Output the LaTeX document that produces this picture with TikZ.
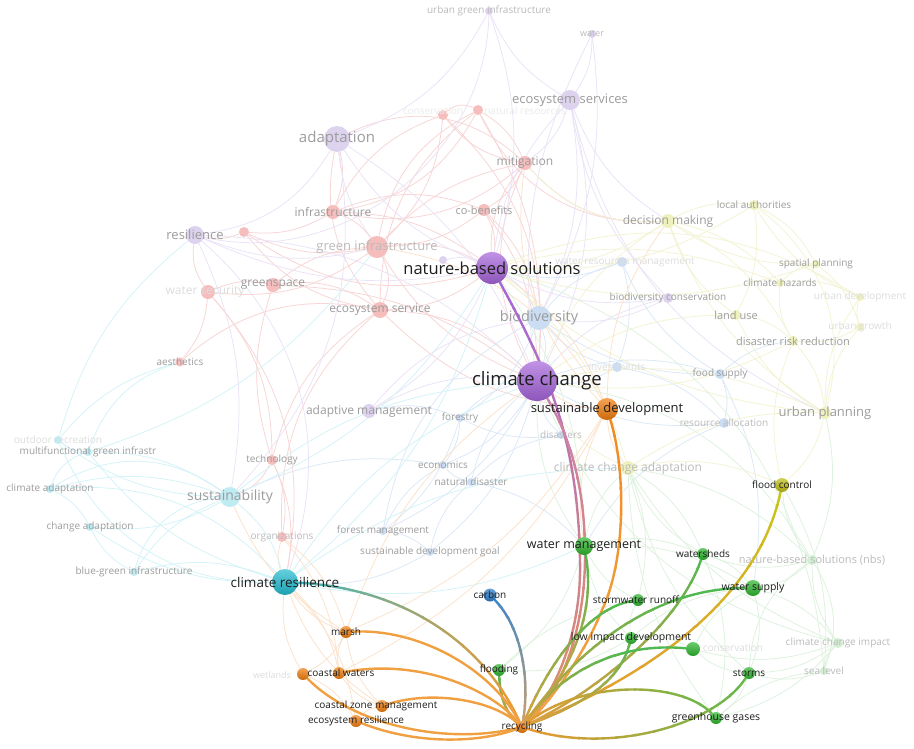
\documentclass[tikz,border=0pt]{standalone}
\usepackage{fontspec}
\setmainfont{Open Sans}
\pgfdeclarelayer{edges}\pgfdeclarelayer{hl}\pgfdeclarelayer{top}\pgfdeclarelayer{back}
\pgfsetlayers{back,edges,main,hl,top}
\definecolor{fP}{HTML}{DDD3EF}
\definecolor{fR}{HTML}{F6BDBD}
\definecolor{fB}{HTML}{CADDF2}
\definecolor{fY}{HTML}{EEF0BE}
\definecolor{fC}{HTML}{BFEBF2}
\definecolor{fG}{HTML}{D2EED2}
\definecolor{eR}{HTML}{F9D4D4}
\definecolor{eP}{HTML}{EAE3F7}
\definecolor{eB}{HTML}{DBE8F7}
\definecolor{eY}{HTML}{F3F3D2}
\definecolor{eC}{HTML}{D2F3F8}
\definecolor{eG}{HTML}{DDF2DD}
\definecolor{eO}{HTML}{FCE2C9}
\definecolor{LG}{HTML}{9C9C9C}
\definecolor{LGb}{HTML}{BBBBBB}
\definecolor{LGc}{HTML}{DDDDDD}
\definecolor{TX}{HTML}{1E1E1E}
\definecolor{cP}{HTML}{A664DA}
\definecolor{cO}{HTML}{F07C0C}
\definecolor{cG}{HTML}{2DB52D}
\definecolor{cB}{HTML}{2A7CCB}
\definecolor{cY}{HTML}{BEBE12}
\definecolor{cC}{HTML}{22BCD0}
\definecolor{gPa}{HTML}{A566D8}
\definecolor{gPb}{HTML}{E0906A}
\definecolor{gCa}{HTML}{CC82A8}
\definecolor{gCb}{HTML}{E0886C}
\definecolor{gOa}{HTML}{F08A20}
\definecolor{gOb}{HTML}{F0A445}
\definecolor{gGa}{HTML}{4DB84D}
\definecolor{gGb}{HTML}{E8A040}
\definecolor{gYa}{HTML}{C8C418}
\definecolor{gYb}{HTML}{E89A30}
\definecolor{gHa}{HTML}{50B850}
\definecolor{gHb}{HTML}{D8A040}
\definecolor{gRb}{HTML}{6AB84A}
\definecolor{gFb}{HTML}{E0A040}
\definecolor{gBa}{HTML}{3F86C8}
\definecolor{gBb}{HTML}{C8A070}
\definecolor{gTa}{HTML}{3AB8C2}
\definecolor{gTb}{HTML}{E89A35}
\definecolor{gO}{HTML}{F0A040}
\newcommand\fsz[1]{\fontsize{#1}{#1}\selectfont}
\tikzset{
 dot/.style={circle, inner sep=0pt, draw=none, fill=#1},
 bdot/.style={circle, inner sep=0pt, draw=none, top color=#1!70!white, bottom color=#1!85!black},
 lab/.style={inner sep=0pt, text=#1},
 fe/.style={line width=0.75pt, draw=#1},
 hle/.style={line width=2.4pt, line cap=round},
}
% faded node: name, x, y, diameter, fill, text, size, text colour
\newcommand\vnode[8]{\node[dot=#5, minimum size=#4pt] (#1) at (#2,#3) {};
  \node[lab=#8, font=\fsz{#7}] (#1-t) at (#2,#3) {#6};}
\newcommand\bnode[8]{\node[bdot=#5, minimum size=#4pt] (#1) at (#2,#3) {};
  \node[lab=#8, font=\fsz{#7}] (#1-t) at (#2,#3) {#6};}
% gradient edge by horizontal bands (y)
\newcommand\gliney[5]{%
  \foreach \k in {0,...,11}{%
    \pgfmathsetmacro\ya{#3+(#4-#3)*\k/12-1}%
    \pgfmathsetmacro\yb{#3+(#4-#3)*(\k+1)/12+1}%
    \ifnum\k=0 \def\ya{-100}\fi
    \ifnum\k=11 \def\yb{900}\fi
    \pgfmathtruncatemacro\pc{100-\k*100/11}%
    \begin{scope}
      \clip (-20,\ya) rectangle (940,\yb);
      \draw[hle, draw=#1!\pc!#2] #5;
    \end{scope}}}
% gradient edge by vertical bands (x)
\newcommand\glinex[5]{%
  \foreach \k in {0,...,11}{%
    \pgfmathsetmacro\ya{#3+(#4-#3)*\k/12-1}%
    \pgfmathsetmacro\yb{#3+(#4-#3)*(\k+1)/12+1}%
    \ifnum\k=0 \def\ya{-100}\fi
    \ifnum\k=11 \def\yb{1000}\fi
    \pgfmathtruncatemacro\pc{100-\k*100/11}%
    \begin{scope}
      \clip (\ya,-20) rectangle (\yb,800);
      \draw[hle, draw=#1!\pc!#2] #5;
    \end{scope}}}
\begin{document}
\begin{tikzpicture}[x=1pt, y=-1pt]
\begin{pgfonlayer}{back}
\fill[white] (0,0) rectangle (914,748);
\end{pgfonlayer}
\useasboundingbox (0,0) rectangle (914,748);

% ---------------- faded nodes ----------------
% purple
\vnode{adaptation}{337}{139}{26}{fP}{adaptation}{15}{LG}
\vnode{ecoserv}{570}{100}{20}{fP}{ecosystem services}{13}{LG}
\vnode{resilience}{195}{235}{18}{fP}{resilience}{13}{LG}
\vnode{ugi}{489}{11}{8}{fP}{urban green infrastructure}{10}{LGb}
\vnode{water}{592}{34}{8}{fP}{water}{9}{LGb}
\vnode{adaptmgmt}{369}{411}{14}{fP}{adaptive management}{12}{LG}
\vnode{biocons}{668}{298}{10}{fP}{biodiversity conservation}{10}{LG}
\node[dot=fP, minimum size=8pt] (pdot) at (443,260) {};
% red
\vnode{ginfra}{377}{247}{22}{fR}{green infrastructure}{13}{LGb}
\vnode{infra}{333}{212}{14}{fR}{infrastructure}{12}{LG}
\vnode{mitig}{525}{163}{14}{fR}{mitigation}{12}{LG}
\vnode{cobene}{484}{210}{12}{fR}{co-benefits}{11}{LG}
\vnode{greensp}{273}{285}{14}{fR}{greenspace}{12}{LG}
\node[dot=fR, minimum size=14pt] (watersec) at (208,292) {};
\node[lab=LGc, font=\fsz{12}] (watersec-t) at (205,292) {water security};
\vnode{ecoservice}{380}{310}{16}{fR}{ecosystem service}{12}{LG}
\vnode{aesthetics}{180}{362}{9}{fR}{aesthetics}{10}{LG}
\vnode{technology}{272}{460}{10}{fR}{technology}{10}{LG}
\vnode{organiz}{282}{537}{10}{fR}{organizations}{10}{LGb}
\node[dot=fR, minimum size=10pt] (rdot) at (244,232) {};
\node[dot=fR, minimum size=10pt] (cons) at (443,115) {};
\node[lab=LGc!60!white, font=\fsz{10}] (cons-t) at (433,111) {conservation};
\node[dot=fR, minimum size=10pt] (natres) at (478,110) {};
\node[lab=LGc!60!white, font=\fsz{10}] (natres-t) at (525,111) {natural resources};
% blue
\vnode{biodiv}{539}{318}{24}{fB}{biodiversity}{14.5}{LG}
\node[dot=fB, minimum size=10pt] (wrm) at (622,262) {};
\node[lab=LGc, font=\fsz{10}] (wrm-t) at (625,262) {water resources management};
\vnode{invest}{617}{367}{10}{fB}{investments}{10}{LGc}
\vnode{foodsup}{720}{374}{10}{fB}{food supply}{10}{LG}
\vnode{resalloc}{724}{423}{10}{fB}{resource allocation}{10}{LGb}
\vnode{forestry}{460}{418}{8}{fB}{forestry}{10}{LG}
\vnode{disasters}{561}{435}{8}{fB}{disasters}{10}{LGb}
\vnode{economics}{443}{465}{8}{fB}{economics}{10}{LG}
\vnode{natdis}{471}{482}{8}{fB}{natural disaster}{10}{LG}
\vnode{forestmgmt}{383}{531}{8}{fB}{forest management}{10}{LG}
\vnode{sdg}{430}{552}{8}{fB}{sustainable development goal}{10}{LG}
% yellow
\vnode{decision}{668}{221}{14}{fY}{decision making}{12}{LG}
\vnode{localauth}{754}{205}{10}{fY}{local authorities}{10}{LG}
\vnode{spatial}{816}{264}{8}{fY}{spatial planning}{10}{LG}
\vnode{climhaz}{780}{283}{8}{fY}{climate hazards}{10}{LG}
\vnode{urbdev}{860}{297}{8}{fY}{urban development}{10}{LGc}
\vnode{landuse}{736}{315}{10}{fY}{land use}{11}{LG}
\vnode{urbgrowth}{860}{327}{8}{fY}{urban growth}{10}{LGc}
\vnode{drr}{793}{341}{10}{fY}{disaster risk reduction}{11}{LG}
\vnode{urbplan}{825}{413}{12}{fY}{urban planning}{13}{LG}
\vnode{cca}{628}{468}{14}{fY}{climate change adaptation}{12}{LGb}
% cyan
\vnode{sustain}{230}{497}{20}{fC}{sustainability}{14}{LG}
\vnode{outdoor}{58}{440}{8}{fC}{outdoor recreation}{10}{LGc}
\vnode{multi}{88}{452}{8}{fC}{multifunctional green infrastr}{10}{LG}
\vnode{climadapt}{50}{489}{8}{fC}{climate adaptation}{10}{LG}
\vnode{changeadapt}{90}{527}{8}{fC}{change adaptation}{10}{LG}
\vnode{bgi}{134}{572}{8}{fC}{blue-green infrastructure}{10}{LG}
% green faded
\vnode{nbsnbs}{812}{560}{10}{fG}{nature-based solutions (nbs)}{11}{LGb}
\vnode{ccimpact}{838}{643}{10}{fG}{climate change impact}{10}{LGb}
\vnode{sealevel}{824}{671}{8}{fG}{sea level}{10}{LGb}
\node[lab=LGc, font=\fsz{10}] (consG-t) at (733,648) {conservation};
\node[lab=LGc, font=\fsz{9}] (wetlands-t) at (272,675) {wetlands};

% ---------------- bright nodes ----------------
\begin{pgfonlayer}{top}
\bnode{nbs}{492}{268}{32}{cP}{nature-based solutions}{16.5}{TX}
\bnode{cc}{537}{381}{40}{cP}{climate change}{18.5}{TX}
\bnode{susdev}{607}{409}{22}{cO}{sustainable development}{13}{TX}
\bnode{carbon}{490}{595}{13}{cB}{carbon}{10}{TX}
\bnode{floodctl}{782}{485}{14}{cY}{flood control}{10}{TX}
\bnode{climres}{285}{582}{26}{cC}{climate resilience}{13.5}{TX}
\bnode{marsh}{346}{632}{12}{cO}{marsh}{10}{TX}
\node[bdot=cO, minimum size=12pt] (wetlands) at (303,674) {};
\node[bdot=cO, minimum size=12pt] (coastal) at (339,673) {};
\node[lab=TX, font=\fsz{10}] (coastal-t) at (341,673) {coastal waters};
\node[bdot=cO, minimum size=12pt] (czm) at (382,706) {};
\node[lab=TX, font=\fsz{10}] (czm-t) at (376,706) {coastal zone management};
\bnode{ecores}{356}{721}{12}{cO}{ecosystem resilience}{10}{TX}
\bnode{recycling}{522}{727}{12}{cO}{recycling}{10}{TX}
\bnode{watermgmt}{584}{546}{18}{cG}{water management}{12.5}{TX}
\bnode{watersheds}{703}{554}{12}{cG}{watersheds}{10}{TX}
\node[bdot=cG, minimum size=12pt] (stormwater) at (638,600) {};
\node[lab=TX, font=\fsz{10}] (stormwater-t) at (636,600) {stormwater runoff};
\bnode{watersupply}{753}{588}{16}{cG}{water supply}{10.5}{TX}
\bnode{lid}{631}{638}{12}{cG}{low impact development}{10.5}{TX}
\node[bdot=cG, minimum size=14pt] (gconserv) at (693,649) {};
\bnode{flooding}{499}{670}{12}{cG}{flooding}{10}{TX}
\bnode{storms}{749}{673}{12}{cG}{storms}{10}{TX}
\bnode{ghg}{716}{718}{12}{cG}{greenhouse gases}{10.5}{TX}
\end{pgfonlayer}

% ---------------- faint edges ----------------
\begin{pgfonlayer}{edges}
\foreach \a/\b/\c/\d in {
 adaptation/infra/eR/10, adaptation/ginfra/eP/-8, adaptation/mitig/eR/20, adaptation/ecoservice/eR/-15,
 adaptation/resilience/eP/15, infra/ginfra/eR/10, infra/mitig/eR/-15, infra/cobene/eR/12,
 ginfra/mitig/eR/10, ginfra/cobene/eR/-10, ginfra/ecoservice/eR/15, ginfra/greensp/eR/-10,
 ginfra/watersec/eR/12, ginfra/natres/eR/15, ginfra/cons/eR/-12, ginfra/rdot/eR/10,
 greensp/ecoservice/eR/12, greensp/watersec/eR/-10, watersec/aesthetics/eR/10, aesthetics/ecoservice/eR/15,
 aesthetics/multi/eC/-15, watersec/technology/eR/12, ecoservice/technology/eR/-12, technology/organiz/eR/10,
 organiz/ecoservice/eR/15, mitig/cobene/eR/10, mitig/natres/eR/-10, mitig/cons/eR/12, cons/natres/eR/20,
 cons/infra/eR/-12, natres/infra/eR/15, cobene/nbs/eR/10, mitig/nbs/eR/-12, ginfra/nbs/eR/10,
 ecoservice/nbs/eR/-10, ecoservice/cc/eR/12, mitig/cc/eR/-15, cobene/cc/eR/10, rdot/infra/eR/-10,
 rdot/resilience/eR/10, rdot/ecoservice/eR/-12, watersec/resilience/eR/12, cons/cc/eR/15, natres/ecoservice/eR/-15,
 greensp/cc/eR/10, ginfra/cc/eR/-10, mitig/decision/eR/-15, cobene/biodiv/eR/10, ecoservice/susdev/eR/-12,
 technology/climres/eR/10, organiz/climres/eO/-10, technology/sustain/eR/12, watersec/climres/eR/15,
 greensp/technology/eR/-10, infra/nbs/eR/10, rdot/nbs/eR/-15, natres/cc/eR/10, natres/decision/eR/-20,
 ecoserv/ugi/eP/10, ecoserv/water/eP/-10, ugi/adaptation/eP/12, water/cc/eP/-10, ugi/nbs/eP/10,
 ecoserv/nbs/eP/-10, ecoserv/cc/eP/12, ecoserv/biodiv/eP/10, ecoserv/decision/eP/-10, ecoserv/mitig/eP/10,
 adaptation/nbs/eP/-10, adaptation/cc/eP/10, resilience/nbs/eP/-10, resilience/cc/eP/12, resilience/sustain/eP/10,
 resilience/ginfra/eP/-10, adaptmgmt/cc/eP/10, adaptmgmt/nbs/eP/-10, adaptmgmt/biodiv/eP/12, biocons/nbs/eP/10,
 biocons/cc/eP/-10, biocons/biodiv/eP/10, pdot/nbs/eP/10, ecoserv/biocons/eP/-10, ugi/resilience/eP/30,
 water/biodiv/eP/10, ecoserv/urbplan/eP/-15, adaptation/sustain/eP/15, resilience/climres/eP/20,
 biodiv/cc/eB/10, biodiv/nbs/eB/-10, biodiv/wrm/eB/10, biodiv/invest/eB/-10, biodiv/forestry/eB/10,
 biodiv/foodsup/eB/-10, wrm/invest/eB/10, wrm/foodsup/eB/-10, invest/cc/eB/10, foodsup/resalloc/eB/10,
 foodsup/cc/eB/-10, resalloc/cc/eB/10, forestry/economics/eB/10, economics/natdis/eB/-10, natdis/disasters/eB/10,
 forestry/disasters/eB/-10, forestmgmt/sdg/eB/10, forestmgmt/forestry/eB/-10, sdg/natdis/eB/10,
 forestmgmt/economics/eB/10, sdg/cc/eB/-10, disasters/cc/eB/10, economics/cc/eB/-10, forestry/cc/eB/10,
 forestmgmt/cc/eB/-10, natdis/cc/eB/10, resalloc/invest/eB/-10, foodsup/drr/eB/10, wrm/nbs/eB/10,
 forestry/adaptmgmt/eB/-10, sdg/climres/eB/10, economics/sustain/eB/-10, natdis/watermgmt/eB/10,
 resalloc/watermgmt/eB/-10, foodsup/watersupply/eB/10, forestmgmt/biodiv/eB/15,
 decision/localauth/eY/10, decision/landuse/eY/-10, decision/climhaz/eY/10, decision/spatial/eY/-10,
 decision/drr/eY/10, decision/urbplan/eY/-10, decision/nbs/eY/10, decision/cc/eY/-10, localauth/spatial/eY/10,
 localauth/urbdev/eY/-10, localauth/landuse/eY/10, spatial/climhaz/eY/-10, climhaz/urbdev/eY/10,
 urbdev/urbgrowth/eY/-10, landuse/drr/eY/10, landuse/urbplan/eY/-10, drr/urbplan/eY/10, drr/urbgrowth/eY/-10,
 urbplan/urbdev/eY/10, urbplan/cc/eY/-10, urbplan/nbs/eY/10, urbplan/cca/eY/-10, cca/cc/eY/10, cca/nbs/eY/-10,
 cca/floodctl/eY/10, floodctl/urbplan/eY/-10, floodctl/drr/eY/10, landuse/cc/eY/-10, spatial/nbs/eY/10,
 urbgrowth/urbplan/eY/-10, localauth/nbs/eY/10, climhaz/nbs/eY/-10, drr/cc/eY/10, urbdev/nbs/eY/-15,
 localauth/urbplan/eY/20, spatial/urbgrowth/eY/10, climhaz/drr/eY/-10, decision/mitig/eY/15,
 sustain/climres/eC/10, sustain/multi/eC/-10, sustain/outdoor/eC/10, sustain/climadapt/eC/-10,
 sustain/changeadapt/eC/10, sustain/bgi/eC/-10, multi/outdoor/eC/10, multi/climadapt/eC/-15,
 climadapt/changeadapt/eC/10, changeadapt/bgi/eC/-10, bgi/climres/eC/10, multi/climres/eC/-10,
 outdoor/resilience/eC/10, climadapt/climres/eC/15, changeadapt/climres/eC/-10, sustain/cc/eC/10,
 sustain/nbs/eC/-10, climres/cc/eC/10, climres/nbs/eC/-10, outdoor/aesthetics/eC/10, multi/ginfra/eC/-10,
 outdoor/climres/eC/-20, bgi/sustain/eC/20, climadapt/sustain/eC/20, climres/cca/eC/10, climres/watermgmt/eC/-10,
 watermgmt/watersheds/eG/10, watermgmt/stormwater/eG/-10, watermgmt/watersupply/eG/10, watermgmt/lid/eG/-10,
 watermgmt/cc/eG/10, watermgmt/nbs/eG/-10, watersheds/watersupply/eG/10, watersheds/nbsnbs/eG/-10,
 watersupply/storms/eG/10, watersupply/nbsnbs/eG/-10, storms/ghg/eG/10, storms/sealevel/eG/-10,
 ghg/sealevel/eG/10, ccimpact/sealevel/eG/-10, ccimpact/nbsnbs/eG/10, ccimpact/watersupply/eG/-10,
 ccimpact/storms/eG/10, nbsnbs/urbplan/eG/-10, nbsnbs/floodctl/eG/10, stormwater/lid/eG/-10, lid/gconserv/eG/10,
 gconserv/storms/eG/-10, gconserv/watersupply/eG/10, flooding/watermgmt/eG/-10, flooding/stormwater/eG/10,
 cca/watermgmt/eG/-10, cca/watersheds/eG/10, nbsnbs/cca/eG/-10, ccimpact/cca/eG/10, sealevel/floodctl/eG/-10,
 watersheds/cca/eG/10, nbsnbs/cc/eG/-15, ccimpact/cc/eG/15, sealevel/nbs/eG/-20, storms/cca/eG/10,
 ghg/watersheds/eG/-10, ghg/cca/eG/10, stormwater/cca/eG/-10, lid/watersupply/eG/10, flooding/lid/eG/-10,
 storms/nbsnbs/eG/15, sealevel/nbsnbs/eG/-15, ccimpact/ghg/eG/10, gconserv/ccimpact/eG/-10,
 susdev/cc/eO/10, susdev/nbs/eO/-10, susdev/marsh/eO/10, marsh/coastal/eO/-10, marsh/wetlands/eO/10,
 coastal/czm/eO/-10, wetlands/ecores/eO/10, czm/ecores/eO/-10, marsh/climres/eO/10, coastal/climres/eO/-10,
 wetlands/climres/eO/10, susdev/watermgmt/eO/-10, czm/climres/eO/10, marsh/organiz/eO/-10, susdev/decision/eO/10,
 ecores/climres/eO/-10, marsh/sustain/eO/10, coastal/organiz/eO/-10, czm/marsh/eO/10, susdev/cca/eO/-10,
 susdev/mitig/eO/15, susdev/ginfra/eO/-15, marsh/cc/eO/10, coastal/susdev/eO/-10
 }{\pgfmathsetmacro\dd{1.7*\d}\draw[fe=\c] (\a) to[bend left=\dd] (\b);}
\end{pgfonlayer}

% ---------------- highlighted edges ----------------
\begin{pgfonlayer}{hl}
\gliney{gPa}{gPb}{270}{727}{(nbs) .. controls (548,370) and (578,440) .. (580,560) .. controls (582,640) and (550,700) .. (recycling)}
\gliney{gCa}{gCb}{395}{727}{(cc) .. controls (566,430) and (586,480) .. (585,560) .. controls (584,640) and (556,700) .. (recycling)}
\gliney{gOa}{gOb}{409}{727}{(susdev) .. controls (626,470) and (626,560) .. (602,610) .. controls (582,660) and (545,708) .. (recycling)}
\gliney{gGa}{gGb}{546}{727}{(watermgmt) .. controls (594,600) and (582,660) .. (recycling)}
\gliney{gYa}{gYb}{485}{727}{(floodctl) .. controls (762,580) and (682,662) .. (recycling)}
\gliney{gHa}{gHb}{554}{727}{(watersheds) .. controls (680,622) and (600,690) .. (recycling)}
\gliney{gHa}{gHb}{588}{727}{(watersupply) .. controls (660,588) and (582,642) .. (recycling)}
\gliney{gHa}{gHb}{600}{727}{(stormwater) .. controls (590,608) and (550,660) .. (recycling)}
\gliney{gHa}{gHb}{638}{727}{(lid) .. controls (618,690) and (562,712) .. (recycling)}
\gliney{gHa}{gHb}{649}{727}{(gconserv) .. controls (620,642) and (562,670) .. (recycling)}
\glinex{gYb}{gRb}{522}{716}{(recycling) .. controls (580,680) and (680,680) .. (ghg)}
\glinex{gYb}{gRb}{522}{749}{(recycling) .. controls (610,755) and (715,725) .. (storms)}
\gliney{gGa}{gFb}{670}{727}{(flooding) .. controls (500,700) and (508,715) .. (recycling)}
\gliney{gBa}{gBb}{595}{727}{(carbon) .. controls (522,628) and (530,680) .. (recycling)}
\glinex{gTa}{gTb}{285}{522}{(climres) .. controls (400,588) and (482,640) .. (recycling)}
\draw[hle, draw=gO] (marsh) .. controls (420,628) and (492,670) .. (recycling);
\draw[hle, draw=gO] (coastal) .. controls (420,658) and (492,690) .. (recycling);
\draw[hle, draw=gO] (wetlands) .. controls (350,722) and (440,746) .. (recycling);
\draw[hle, draw=gO] (czm) .. controls (432,690) and (492,700) .. (recycling);
\draw[hle, draw=gO] (ecores) .. controls (420,746) and (482,742) .. (recycling);
\end{pgfonlayer}
\end{tikzpicture}
\end{document}
